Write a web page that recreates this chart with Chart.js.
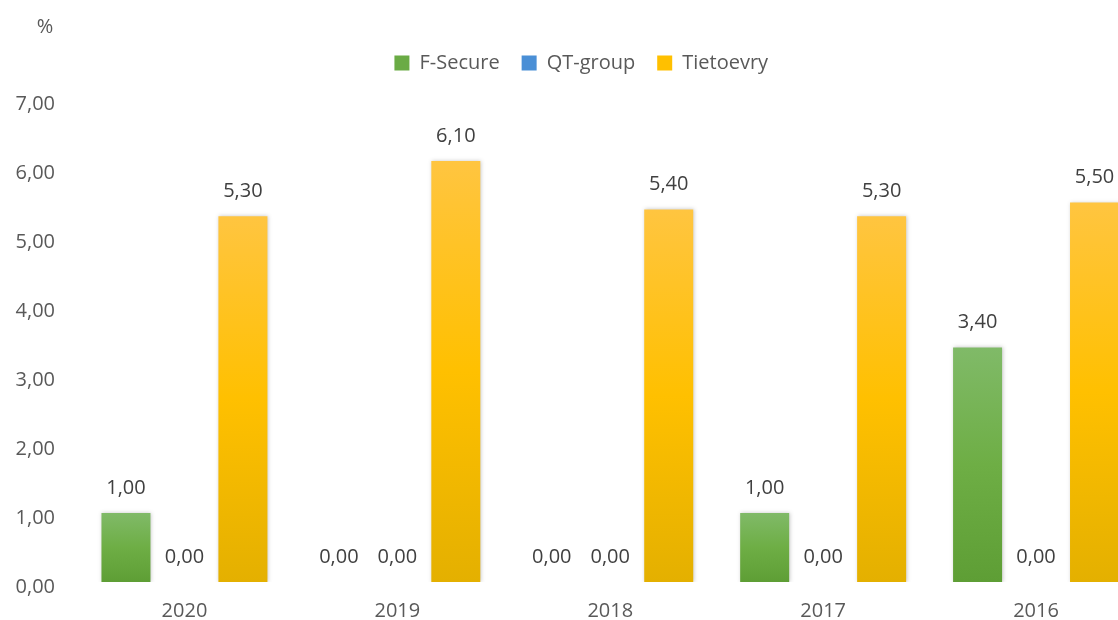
<!DOCTYPE html>
<html>
<head>
<meta charset="utf-8">
<script src="https://cdn.jsdelivr.net/npm/chart.js@4.4.1/dist/chart.umd.min.js"></script>
<style>
  html, body { margin: 0; padding: 0; background: #fff; overflow: hidden; }
  #wrap { width: 1160px; height: 620px; position: relative; }
</style>
</head>
<body>
<div id="wrap"><canvas id="chart"></canvas></div>
<script>
// data
const years = ['2020', '2019', '2018', '2017', '2016'];
const fSecure = [1.00, 0.00, 0.00, 1.00, 3.40];
const qtGroup = [0.00, 0.00, 0.00, 0.00, 0.00];
const tietoevry = [5.30, 6.10, 5.40, 5.30, 5.50];
const yTicks = [0, 1, 2, 3, 4, 5, 6, 7];

const FONT = "'Open Sans', 'Noto Sans', sans-serif";
const fmt = v => Number(v).toFixed(2).replace('.', ',');

// flat colours for the legend, [top, middle, bottom] for the bars
const palette = {
  green: { flat: '#6aab45', stops: ['#80ba68', '#6eae45', '#5e9e35'] },
  blue:  { flat: '#4a8fd6', stops: ['#6aa7e3', '#4a8fd6', '#3a7cc2'] },
  gold:  { flat: '#ffc000', stops: ['#ffc540', '#ffc000', '#e4b000'] }
};

// vertical gradient per bar, from the bar top down to the base
function barFill(p) {
  return (ctx) => {
    const chart = ctx.chart;
    const y = chart.scales && chart.scales.y;
    if (!chart.chartArea || !y || ctx.type !== 'data') return p.flat;
    const top = y.getPixelForValue(ctx.raw);
    const base = y.getPixelForValue(0);
    if (base - top < 1) return p.flat;
    const g = chart.ctx.createLinearGradient(0, top, 0, base);
    g.addColorStop(0, p.stops[0]);
    g.addColorStop(0.5, p.stops[1]);
    g.addColorStop(1, p.stops[2]);
    return g;
  };
}

// the legend sits a bit right of the plot centre and higher up in the original
const legendShift = {
  id: 'legendShift',
  afterLayout(chart) {
    const lg = chart.legend;
    if (!lg) return;
    lg.left += 10;
    lg.right += 10;
    lg.top -= 16;
    lg.bottom -= 16;
  }
};

const barShadow = {
  id: 'barShadow',
  beforeDatasetsDraw(chart) {
    const c = chart.ctx;
    c.save();
    c.shadowColor = 'rgba(0,0,0,0.22)';
    c.shadowBlur = 4;
    c.shadowOffsetX = 1;
    c.shadowOffsetY = 0;
  },
  afterDatasetsDraw(chart) {
    chart.ctx.restore();
  }
};

const valueLabels = {
  id: 'valueLabels',
  afterDatasetsDraw(chart) {
    const c = chart.ctx;
    c.save();
    c.font = '20px ' + FONT;
    c.fillStyle = '#404040';
    c.textAlign = 'center';
    c.textBaseline = 'middle';
    chart.data.datasets.forEach((ds, i) => {
      chart.getDatasetMeta(i).data.forEach((bar, j) => {
        c.fillText(fmt(ds.data[j]), bar.x, bar.y - 25);
      });
    });
    c.restore();
  }
};

const unitLabel = {
  id: 'unitLabel',
  afterDraw(chart) {
    const c = chart.ctx;
    c.save();
    c.font = '20px ' + FONT;
    c.fillStyle = '#595959';
    c.textAlign = 'center';
    c.textBaseline = 'middle';
    c.fillText('%', 45, 27);
    c.restore();
  }
};

new Chart(document.getElementById('chart'), {
  type: 'bar',
  data: {
    labels: years,
    datasets: [
      { label: 'F-Secure', data: fSecure, backgroundColor: barFill(palette.green), legendColor: palette.green.flat },
      { label: 'QT-group', data: qtGroup, backgroundColor: barFill(palette.blue), legendColor: palette.blue.flat },
      { label: 'Tietoevry', data: tietoevry, backgroundColor: barFill(palette.gold), legendColor: palette.gold.flat }
    ]
  },
  options: {
    responsive: true,
    maintainAspectRatio: false,
    animation: false,
    devicePixelRatio: 1,
    layout: { padding: { top: 16, left: 0, right: 17.5, bottom: 0 } },
    datasets: { bar: { categoryPercentage: 0.824, barPercentage: 0.838, borderWidth: 0 } },
    plugins: {
      legend: {
        position: 'top',
        labels: {
          font: { family: FONT, size: 20 },
          color: '#595959',
          boxWidth: 15,
          boxHeight: 15,
          padding: 22,
          generateLabels(chart) {
            return chart.data.datasets.map((ds, i) => ({
              text: ds.label,
              fillStyle: ds.legendColor,
              strokeStyle: ds.legendColor,
              lineWidth: 0,
              fontColor: '#595959',
              hidden: !chart.isDatasetVisible(i),
              datasetIndex: i
            }));
          }
        }
      },
      tooltip: { enabled: false }
    },
    scales: {
      x: {
        grid: { display: false, drawTicks: false },
        border: { display: false },
        ticks: { font: { family: FONT, size: 20 }, color: '#595959', padding: 17 },
        afterFit(scale) { scale.height = 38; }
      },
      y: {
        min: 0,
        max: 7,
        grid: { display: false, drawTicks: false },
        border: { display: false },
        afterBuildTicks(scale) { scale.ticks = yTicks.map(v => ({ value: v })); },
        ticks: {
          font: { family: FONT, size: 20 },
          color: '#595959',
          padding: 23,
          labelOffset: 5,
          callback: v => fmt(v)
        },
        afterFit(scale) { scale.width = 78; scale.paddingTop = 99; }
      }
    }
  },
  plugins: [legendShift, barShadow, valueLabels, unitLabel]
});
</script>
</body>
</html>
